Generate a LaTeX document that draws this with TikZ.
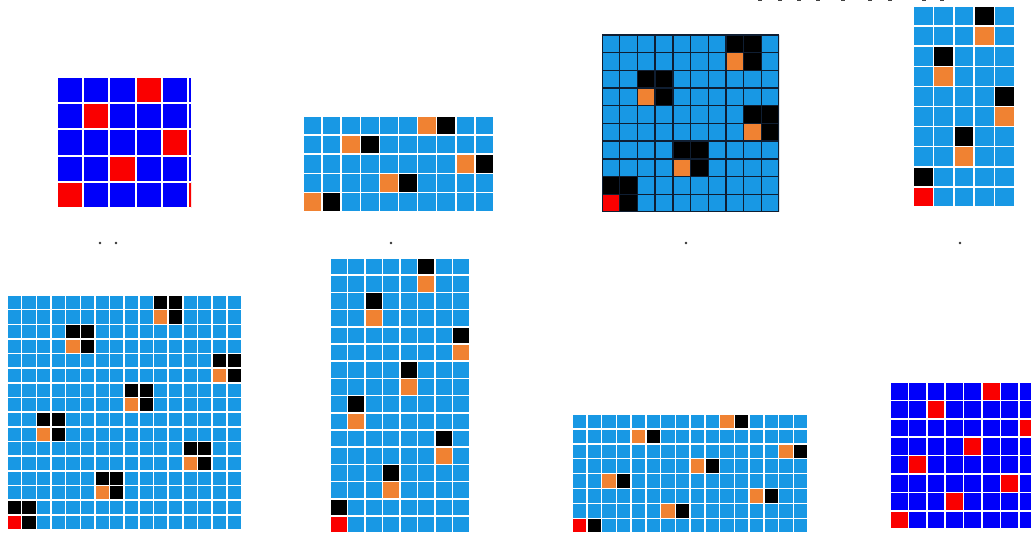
\documentclass[tikz,border=0pt]{standalone}
\usepackage{tikz}
\usetikzlibrary{positioning}
\definecolor{cellblue}{RGB}{24,152,228}
\definecolor{deepblue}{RGB}{0,0,250}
\definecolor{hotred}{RGB}{250,0,0}
\definecolor{tileorange}{RGB}{240,130,50}
\definecolor{gridnavy}{RGB}{15,30,50}

\tikzset{
  lightline/.style={white, line width=1.5pt},
  darkline/.style={gridnavy, line width=1.4pt},
}

\begin{document}
\begin{tikzpicture}[x=1pt,y=-1pt]
  \useasboundingbox (0,0) rectangle (1031,534);

  % --- top row ---
  \begin{scope}[shift={(57pt,-77pt)}, x=26.2pt, y=-26.2pt]
    \clip (0,0) rectangle (5.12,5);
    \fill[deepblue] (0,0) rectangle (5.12,5);
    \foreach \c/\r in {3/0,1/1,4/2,2/3,0/4,5/4}
      \fill[hotred] (\c,\r) rectangle (\c+1,\r+1);
    \foreach \i in {0,...,5} \draw[lightline, line width=2pt] (\i,0) -- (\i,5);
    \foreach \j in {0,...,5} \draw[lightline, line width=2pt] (0,\j) -- (5.12,\j);
  \end{scope}

  \begin{scope}[shift={(303pt,-116pt)}, x=19.1pt, y=-19.1pt]
    \clip (0,0) rectangle (10,5);
    \fill[cellblue] (0,0) rectangle (10,5);
    \foreach \c/\r in {6/0,2/1,8/2,4/3,0/4} {
      \fill[tileorange] (\c,\r) rectangle (\c+1,\r+1);
      \fill[black] (\c+1,\r) rectangle (\c+2,\r+1);
    }
    \foreach \i in {0,...,10} \draw[lightline] (\i,0) -- (\i,5);
    \foreach \j in {0,...,5} \draw[lightline] (0,\j) -- (10,\j);
  \end{scope}

  \begin{scope}[shift={(602pt,-35pt)}, x=17.7pt, y=-17.7pt]
    \clip (0,0) rectangle (10,10);
    \fill[cellblue] (0,0) rectangle (10,10);
    \foreach \c/\r in {7/0,2/2,8/4,4/6,0/8} {
      \fill[black] (\c,\r) rectangle (\c+2,\r+2);
      \fill[tileorange] (\c,\r+1) rectangle (\c+1,\r+2);
    }
    \fill[hotred] (0,9) rectangle (1,10);
    \foreach \i in {0,...,10} \draw[darkline] (\i,0) -- (\i,10);
    \foreach \j in {0,...,10} \draw[darkline] (0,\j) -- (10,\j);
  \end{scope}

  \begin{scope}[shift={(913pt,-6pt)}, x=20.4pt, y=-20.1pt]
    \clip (0,0) rectangle (5,10);
    \fill[cellblue] (0,0) rectangle (5,10);
    \foreach \c/\r in {3/0,1/2,4/4,2/6,0/8} {
      \fill[black] (\c,\r) rectangle (\c+1,\r+1);
      \fill[tileorange] (\c,\r+1) rectangle (\c+1,\r+2);
    }
    \fill[hotred] (0,9) rectangle (1,10);
    \foreach \i in {0,...,5} \draw[lightline] (\i,0) -- (\i,10);
    \foreach \j in {0,...,10} \draw[lightline] (0,\j) -- (5,\j);
  \end{scope}

  % cut-off marks along the top edge
  \foreach \x in {758,778,797,816,841,868,888,922,940}
    \fill[black!75] (\x,0) rectangle (\x+4,1.1);

  % dots between the rows
  \foreach \x in {100,116,391,686,960}
    \fill[black!80] (\x,243) circle (1.4pt);

  % --- bottom row ---
  \begin{scope}[shift={(7pt,-295pt)}, x=14.65pt, y=-14.65pt]
    \clip (0,0) rectangle (16,16);
    \fill[cellblue] (0,0) rectangle (16,16);
    \foreach \c/\r in {10/0,4/2,14/4,8/6,2/8,12/10,6/12,0/14} {
      \fill[black] (\c,\r) rectangle (\c+2,\r+2);
      \fill[tileorange] (\c,\r+1) rectangle (\c+1,\r+2);
    }
    \fill[hotred] (0,15) rectangle (1,16);
    \foreach \i in {0,...,16} \draw[lightline] (\i,0) -- (\i,16);
    \foreach \j in {0,...,16} \draw[lightline] (0,\j) -- (16,\j);
  \end{scope}

  \begin{scope}[shift={(330pt,-258pt)}, x=17.5pt, y=-17.2pt]
    \clip (0,0) rectangle (8,16);
    \fill[cellblue] (0,0) rectangle (8,16);
    \foreach \c/\r in {5/0,2/2,7/4,4/6,1/8,6/10,3/12,0/14} {
      \fill[black] (\c,\r) rectangle (\c+1,\r+1);
      \fill[tileorange] (\c,\r+1) rectangle (\c+1,\r+2);
    }
    \fill[hotred] (0,15) rectangle (1,16);
    \foreach \i in {0,...,8} \draw[lightline] (\i,0) -- (\i,16);
    \foreach \j in {0,...,16} \draw[lightline] (0,\j) -- (8,\j);
  \end{scope}

  \begin{scope}[shift={(572pt,-414pt)}, x=14.75pt, y=-14.9pt]
    \clip (0,0) rectangle (16,8);
    \fill[cellblue] (0,0) rectangle (16,8);
    \foreach \c/\r in {10/0,4/1,14/2,8/3,2/4,12/5,6/6,0/7} {
      \fill[tileorange] (\c,\r) rectangle (\c+1,\r+1);
      \fill[black] (\c+1,\r) rectangle (\c+2,\r+1);
    }
    \fill[hotred] (0,7) rectangle (1,8);
    \foreach \i in {0,...,16} \draw[lightline] (\i,0) -- (\i,8);
    \foreach \j in {0,...,8} \draw[lightline] (0,\j) -- (16,\j);
  \end{scope}

  \begin{scope}[shift={(890pt,-382pt)}, x=18.4pt, y=-18.4pt]
    \clip (0,0) rectangle (7.7,8);
    \fill[deepblue] (0,0) rectangle (7.7,8);
    \foreach \c/\r in {5/0,2/1,7/2,4/3,1/4,6/5,3/6,0/7}
      \fill[hotred] (\c,\r) rectangle (\c+1,\r+1);
    \foreach \i in {0,...,7} \draw[lightline] (\i,0) -- (\i,8);
    \foreach \j in {0,...,8} \draw[lightline] (0,\j) -- (7.7,\j);
  \end{scope}
\end{tikzpicture}
\end{document}
